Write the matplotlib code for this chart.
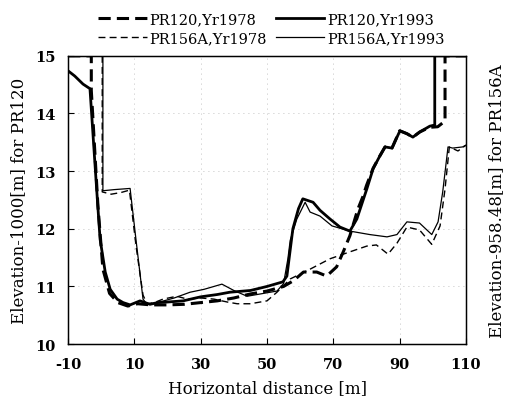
import matplotlib.pyplot as plt

plt.rcParams['font.family'] = ['DejaVu Serif']
plt.rcParams['axes.unicode_minus'] = False

# PR120, 1978 (thick dashed)
x_pr120_78 = [-10, -3, -3, -2, -1, 0.5, 2.5, 5, 8, 11, 15, 20, 25, 30, 35, 40, 45, 50, 55,
              58, 61, 65, 68, 71, 73, 75, 77.4, 79, 80, 82, 84, 85.6, 87.7, 90, 92.2, 94,
              96.1, 99, 101.5, 103.7, 103.7, 110]
y_pr120_78 = [15, 15, 14.4, 13.4, 12.4, 11.3, 10.88, 10.72, 10.66, 10.7, 10.68, 10.68, 10.69,
              10.72, 10.75, 10.8, 10.87, 10.92, 11.0, 11.1, 11.25, 11.25, 11.18, 11.34, 11.6,
              11.88, 12.34, 12.57, 12.75, 13.05, 13.26, 13.42, 13.4, 13.7, 13.65, 13.59,
              13.68, 13.76, 13.77, 13.87, 15, 15]

# PR120, 1993 (thick solid)
x_pr120_93 = [-10, -8, -5.5, -3.4, -2.4, -1.4, -0.35, 1.2, 2.7, 4.8, 6.6, 8.7, 11.7, 14.7,
              17, 20, 24.7, 30, 35, 38.8, 45, 50, 54.8, 56, 57.8, 59.5, 60.8, 63.9, 66, 69,
              72, 75, 77.1, 80.1, 82, 84, 85.6, 87.7, 90.1, 92.2, 94, 96.1, 99.1, 100.6,
              100.6, 110]
y_pr120_93 = [14.74, 14.65, 14.51, 14.43, 13.56, 12.7, 11.82, 11.25, 10.95, 10.78, 10.72,
              10.68, 10.75, 10.69, 10.72, 10.73, 10.75, 10.82, 10.86, 10.9, 10.93, 11.0,
              11.08, 11.18, 12.0, 12.35, 12.52, 12.46, 12.32, 12.17, 12.03, 11.96, 12.17,
              12.69, 13.04, 13.26, 13.42, 13.4, 13.7, 13.65, 13.59, 13.68, 13.78, 13.8,
              15, 15]

# PR156A, 1978 (thin dashed)
x_pr156_78 = [0.3, 0.3, 3, 6, 8.5, 10.5, 12.6, 13.8, 16, 18.6, 22.8, 26, 30, 34, 38, 41,
              45, 50, 53, 57, 63, 69, 75, 80.1, 83, 86.5, 89.2, 92.2, 96, 99.7, 102.2,
              103.7, 105, 107.6, 110]
y_pr156_78 = [15, 12.64, 12.6, 12.63, 12.67, 11.7, 10.85, 10.7, 10.72, 10.78, 10.83, 10.78,
              10.8, 10.78, 10.73, 10.7, 10.7, 10.75, 10.9, 11.13, 11.3, 11.48, 11.6, 11.7,
              11.72, 11.56, 11.75, 12.03, 11.98, 11.73, 12.05, 12.69, 13.42, 13.35, 13.45]

# PR156A, 1993 (thin solid)
x_pr156_93 = [0.5, 0.5, 4, 8.7, 10.5, 12.6, 13.8, 17, 22, 26.8, 31, 36.4, 40, 44, 48, 53,
              55, 56.3, 57, 59, 61.5, 63, 66, 69.6, 75, 81, 86.2, 89.2, 92.2, 96, 99.7,
              101.6, 103, 104.6, 106, 109, 110]
y_pr156_93 = [15, 12.66, 12.68, 12.7, 11.8, 10.78, 10.69, 10.72, 10.8, 10.9, 10.95, 11.04,
              10.93, 10.83, 10.87, 10.92, 11.05, 11.48, 11.8, 12.17, 12.46, 12.29, 12.22,
              12.05, 11.96, 11.9, 11.86, 11.9, 12.12, 12.1, 11.9, 12.12, 12.64, 13.42, 13.4,
              13.42, 13.45]

x_ticks = [-10, 10, 30, 50, 70, 90, 110]
y_ticks = [10, 11, 12, 13, 14, 15]

fig = plt.figure(figsize=(5.12, 4.06), dpi=100)
ax = fig.add_axes([0.133, 0.150, 0.777, 0.710])

l1, = ax.plot(x_pr120_78, y_pr120_78, color='black', lw=2.2, dashes=(4, 2),
              label='PR120,Yr1978')
l2, = ax.plot(x_pr120_93, y_pr120_93, color='black', lw=2.0, label='PR120,Yr1993')
l3, = ax.plot(x_pr156_78, y_pr156_78, color='black', lw=1.0, dashes=(5, 3),
              label='PR156A,Yr1978')
l4, = ax.plot(x_pr156_93, y_pr156_93, color='black', lw=0.9, label='PR156A,Yr1993')

ax.set_xlim(-10, 110)
ax.set_ylim(10, 15)
ax.set_xticks(x_ticks)
ax.set_yticks(y_ticks)
ax.tick_params(direction='in', labelsize=10.5, length=4)
ax.tick_params(axis='x', pad=9)
ax.tick_params(axis='y', pad=9)
for lab in ax.get_xticklabels() + ax.get_yticklabels():
    lab.set_fontweight('bold')
ax.grid(True, color='#b0b0b0', lw=0.6, dashes=(1, 5))
for s in ax.spines.values():
    s.set_linewidth(1.0)

ax.set_xlabel('Horizontal distance [m]', fontsize=12, labelpad=6)
ax.set_ylabel('Elevation-1000[m] for PR120', fontsize=12, labelpad=6)

ax2 = ax.twinx()
ax2.set_yticks([])
ax2.set_ylabel('Elevation-958.48[m] for PR156A', fontsize=12, labelpad=16)

fig.legend(handles=[l1, l3, l2, l4], ncol=2, loc='upper center',
           bbox_to_anchor=(0.53, 0.985), frameon=False, fontsize=10.5,
           handlelength=3.3, handletextpad=0.2, columnspacing=0.6,
           labelspacing=0.35, borderaxespad=0.1)

fig.savefig('out.png', dpi=100)
